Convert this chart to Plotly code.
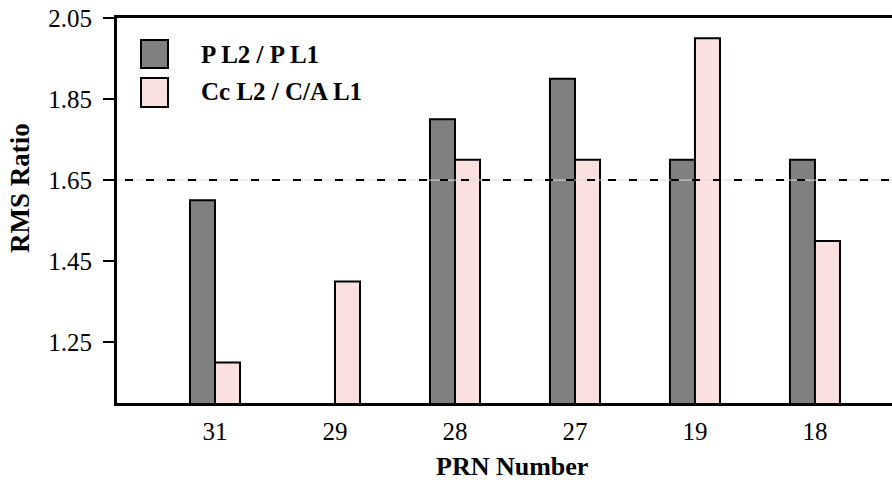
import plotly.graph_objects as go

# PRN satellites and RMS ratio per signal pair
prn_labels = ["31", "29", "28", "27", "19", "18"]
p_ratio = [1.6, None, 1.8, 1.9, 1.7, 1.7]        # P L2 / P L1
c_ratio = [1.2, 1.4, 1.7, 1.7, 2.0, 1.5]         # Cc L2 / C/A L1
threshold = 1.65
series_names = ["P L2 / P L1", "Cc L2 / C/A L1"]
series_colors = ["#808080", "#fbe0e0"]
y_ticks = [1.25, 1.45, 1.65, 1.85, 2.05]

FONT = "Liberation Serif"

W, H = 892, 485
L, R, T, B = 117, 0, 18, 82
pw, ph = W - L - R, H - T - B

def px_x(px):
    return (px - L) / pw

def px_y(py):
    return (H - B - py) / ph

fig = go.Figure()
for name, vals, col in zip(series_names, [p_ratio, c_ratio], series_colors):
    fig.add_trace(go.Bar(
        x=list(range(len(prn_labels))), y=vals, name=name,
        marker=dict(color=col, line=dict(color="black", width=2)),
        showlegend=False,
    ))

# reference level
fig.add_shape(type="line", xref="paper", yref="y", x0=0, x1=1,
              y0=threshold, y1=threshold, layer="above",
              line=dict(color="#dddddd", width=1))
fig.add_shape(type="line", xref="paper", yref="y", x0=px_x(125), x1=1,
              y0=threshold, y1=threshold, layer="above",
              line=dict(color="black", width=2, dash="8px,13px"))

# legend drawn as boxes + labels
legend_rows = [(40, 68, 54), (78, 107, 92)]
for (top, bot, mid), name, col in zip(legend_rows, series_names, series_colors):
    fig.add_shape(type="rect", xref="paper", yref="paper",
                  x0=px_x(141), x1=px_x(168), y0=px_y(bot), y1=px_y(top),
                  fillcolor=col, line=dict(color="black", width=2), layer="above")
    fig.add_annotation(xref="paper", yref="paper", x=px_x(199), y=px_y(mid),
                       xanchor="left", yanchor="middle", showarrow=False,
                       text="<b>%s</b>" % name,
                       font=dict(family=FONT, size=25, color="black"))

fig.add_annotation(xref="paper", yref="paper", x=px_x(512), y=px_y(466),
                   xanchor="center", yanchor="middle", showarrow=False,
                   text="<b>PRN Number</b>",
                   font=dict(family=FONT, size=26, color="black"))
fig.add_annotation(xref="paper", yref="paper", x=px_x(20), y=px_y(188),
                   xanchor="center", yanchor="middle", showarrow=False,
                   textangle=-90, text="<b>RMS Ratio</b>",
                   font=dict(family=FONT, size=27, color="black"))

fig.update_layout(
    width=W, height=H,
    margin=dict(l=L, r=R, t=T, b=B, pad=0),
    paper_bgcolor="white", plot_bgcolor="white",
    barmode="group", bargap=0.583, bargroupgap=0,
    font=dict(family=FONT, size=25, color="black"),
)
fig.update_xaxes(
    range=[-0.8167, 5.642], tickmode="array",
    tickvals=list(range(len(prn_labels))), ticktext=prn_labels,
    showline=True, linecolor="black", linewidth=3, mirror=True,
    ticks="", showgrid=False, zeroline=False, ticklabelstandoff=4,
    tickfont=dict(family=FONT, size=25, color="black"),
)
fig.update_yaxes(
    range=[1.1, 2.05], tickmode="array", tickvals=y_ticks,
    ticktext=["%.2f" % v for v in y_ticks],
    showline=True, linecolor="black", linewidth=3,
    ticks="outside", ticklen=11, tickwidth=2, tickcolor="black",
    showgrid=False, zeroline=False, ticklabelstandoff=6,
    tickfont=dict(family=FONT, size=25, color="black"),
)

fig.write_html("out.html")
